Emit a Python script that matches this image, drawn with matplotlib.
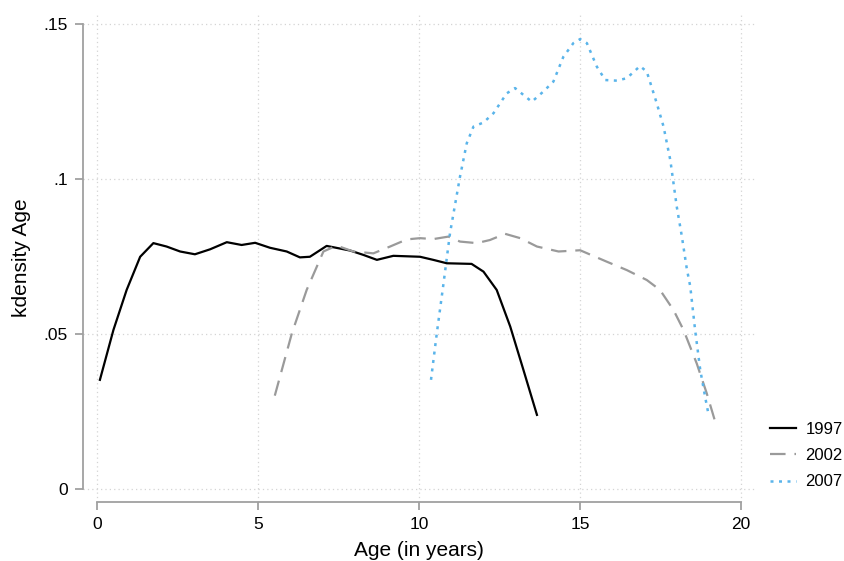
import numpy as np
import matplotlib
matplotlib.use("Agg")
from matplotlib import pyplot as plt

plt.rcParams['font.family'] = ['Liberation Sans', 'DejaVu Sans']

# kernel density of age
age_1997 = [0.09, 0.51, 0.92, 1.34, 1.75, 2.16, 2.58, 3.04, 3.51, 4.03, 4.49, 4.91,
            5.37, 5.89, 6.30, 6.61, 7.13, 7.86, 8.27, 8.69, 9.20, 10.03, 10.44,
            10.86, 11.63, 12.0, 12.41, 12.83, 13.24, 13.66]
dens_1997 = [0.0353, 0.0514, 0.0643, 0.0750, 0.0794, 0.0783, 0.0767, 0.0758, 0.0774,
             0.0797, 0.0788, 0.0795, 0.0779, 0.0767, 0.0748, 0.0750, 0.0785, 0.0770,
             0.0756, 0.0740, 0.0753, 0.0750, 0.0740, 0.0729, 0.0727, 0.0702, 0.0643,
             0.0525, 0.0385, 0.0240]

age_2002 = [5.52, 6.05, 6.51, 7.03, 7.44, 7.96, 8.58, 9.10, 9.62, 10.03, 10.44, 10.91,
            11.27, 11.79, 12.20, 12.67, 13.14, 13.66, 14.33, 15.0, 15.83, 16.45,
            17.07, 17.48, 17.90, 18.21, 18.62, 18.93, 19.24]
dens_2002 = [0.0302, 0.0503, 0.0643, 0.0767, 0.0786, 0.0767, 0.0761, 0.0783, 0.0806,
             0.0810, 0.0807, 0.0815, 0.0799, 0.0794, 0.0804, 0.0824, 0.0810, 0.0783,
             0.0767, 0.0771, 0.0734, 0.0707, 0.0675, 0.0643, 0.0578, 0.0514, 0.0406,
             0.0310, 0.0202]

age_2007 = [10.37, 10.55, 10.76, 10.96, 11.27, 11.48, 11.69, 12.0, 12.31, 12.72, 12.98,
            13.24, 13.50, 13.86, 14.17, 14.48, 14.79, 15.0, 15.21, 15.52, 15.78,
            16.14, 16.45, 16.86, 17.07, 17.38, 17.59, 17.80, 18.0, 18.16, 18.31,
            18.42, 18.57, 18.73, 18.88, 18.98]
dens_2007 = [0.0353, 0.0503, 0.0665, 0.0826, 0.1008, 0.1116, 0.1170, 0.1183, 0.1213,
             0.1277, 0.1294, 0.1272, 0.1250, 0.1283, 0.1315, 0.1395, 0.1439, 0.1452,
             0.1439, 0.1363, 0.1320, 0.1318, 0.1326, 0.1365, 0.1347, 0.1245, 0.1170,
             0.1062, 0.0912, 0.0815, 0.0713, 0.0654, 0.0514, 0.0385, 0.0299, 0.0245]

x_ticks = [0, 5, 10, 15, 20]
y_ticks = [0, 0.05, 0.1, 0.15]
y_tick_labels = ['0', '.05', '.1', '.15']

W, H = 845, 561
fig = plt.figure(figsize=(W / 100, H / 100), dpi=100)
ax = fig.add_axes([83 / W, (H - 502) / H, (755 - 83) / W, (502 - 14) / H])

ax.plot(age_1997, dens_1997, color='black', lw=1.6, label='1997')
ax.plot(age_2002, dens_2002, color='#9a9a9a', lw=1.6, dashes=(7, 4), label='2002')
ax.plot(age_2007, dens_2007, color='#5ab4ea', lw=1.8, dashes=(1.2, 2.2), label='2007')

ax.set_xlim(-0.435, 20.43)
ax.set_ylim(-0.0041, 0.1533)
ax.set_xticks(x_ticks)
ax.set_yticks(y_ticks)
ax.set_yticklabels(y_tick_labels)

ax.grid(True, color='#d4d4d4', linestyle=(0, (1, 2.5)), lw=0.9)
ax.set_axisbelow(True)

for s in ['top', 'right']:
    ax.spines[s].set_visible(False)
for s in ['left', 'bottom']:
    ax.spines[s].set_color('#a0a0a0')
    ax.spines[s].set_linewidth(1.3)
ax.spines['left'].set_bounds(0, 0.15)
ax.spines['bottom'].set_bounds(0, 20)
ax.tick_params(axis='both', colors='#a0a0a0', length=6, width=1.3, labelcolor='black',
               labelsize=12.5, pad=5)

ax.set_xlabel('Age (in years)', fontsize=15, labelpad=6)
ax.set_ylabel('kdensity Age', fontsize=15, labelpad=9)

fig.legend(loc='upper left', bbox_to_anchor=(763 / W, 1 - 415 / H), frameon=False,
           fontsize=12, handlelength=1.6, handletextpad=0.55, labelspacing=0.68,
           borderaxespad=0)

fig.savefig('out.png', dpi=100)
